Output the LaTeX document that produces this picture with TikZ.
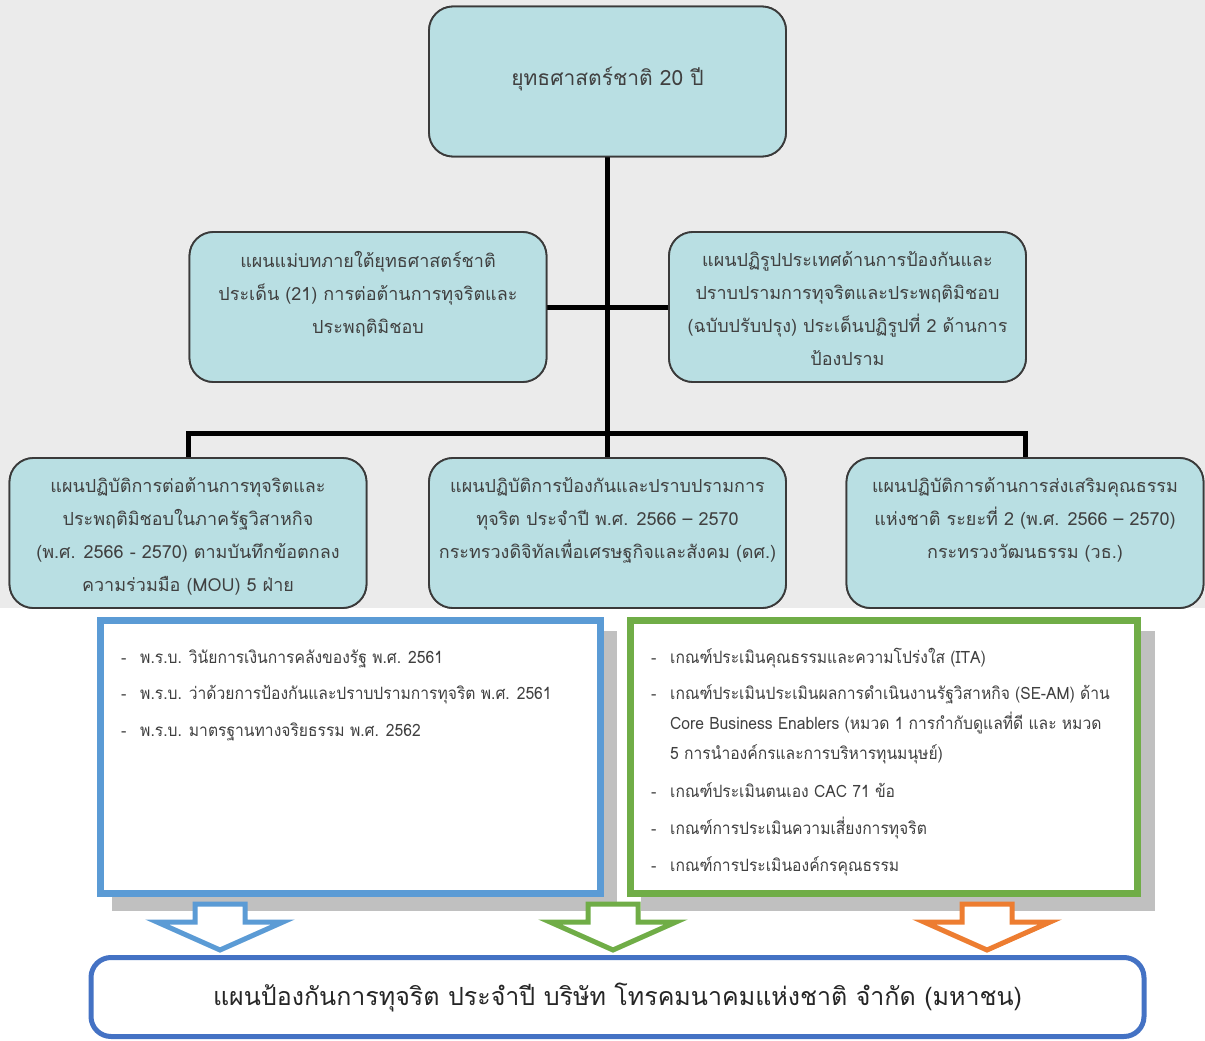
\documentclass[tikz,border=0pt]{standalone}
\usepackage{fontspec}
\setmainfont[Script=Thai]{Loma}
\newfontfamily\listfont[Script=Thai,FakeStretch=0.92]{Loma}
\definecolor{bgc}{HTML}{EBEBEB}
\definecolor{tealc}{HTML}{B9DFE3}
\definecolor{bordc}{HTML}{3A3A3A}
\definecolor{blueb}{HTML}{5B9BD5}
\definecolor{greenb}{HTML}{70AD47}
\definecolor{orangeb}{HTML}{ED7D31}
\definecolor{navyb}{HTML}{4472C4}
\definecolor{shadc}{HTML}{C0C0C0}
\definecolor{txtc}{HTML}{404040}
\begin{document}
\begin{tikzpicture}[x=1pt,y=-1pt,
  pbox/.style={rectangle,rounded corners=24pt,draw=bordc,line width=1.8pt,fill=tealc,minimum width=357pt,minimum height=150pt,inner sep=0pt},
  btext/.style={anchor=north,align=center,text=txtc,inner sep=0pt,font=\fontsize{18}{33}\selectfont},
  conn/.style={line width=5pt,black},
  litem/.style={anchor=base west,inner sep=0pt,text=txtc,font=\listfont\fontsize{17}{30}\selectfont},
  ldash/.style={anchor=base west,inner sep=0pt,text=txtc,font=\fontsize{16}{30}\selectfont},
  harrow/.style={line width=5pt,fill=white,line join=miter}
]
\useasboundingbox (0,0) rectangle (1205,1041);
\fill[white] (0,0) rectangle (1205,1041);
\fill[bgc] (0,0) rectangle (1205,608);

\coordinate (j2) at (607.5,433);

% boxes (first pass, to get anchors)
\node[pbox] (top) at (607.5,81.5) {};
\node[pbox] (ml) at (368,307) {};
\node[pbox] (mr) at (847.5,307) {};
\node[pbox] (bl) at (188,533) {};
\node[pbox] (bm) at (607.5,533) {};
\node[pbox] (br) at (1025,533) {};

% connectors
\draw[conn] (top.south) -- (j2);
\draw[conn] (ml.east) -- (mr.west);
\draw[conn] (bl.north) -- (bl.north |- j2) -- (br.north |- j2) -- (br.north);
\draw[conn] (j2) -- (bm.north);

% boxes over connectors
\node[pbox] (top2) at (top) {};
\node[pbox] (ml2) at (ml) {};
\node[pbox] (mr2) at (mr) {};
\node[pbox] (bl2) at (bl) {};
\node[pbox] (bm2) at (bm) {};
\node[pbox] (br2) at (br) {};

\node[btext,anchor=center,font=\fontsize{21}{30}\selectfont] (topt) at (607.5,79) {ยุทธศาสตร์ชาติ 20 ปี};
\node[btext] (mlt) at ([yshift=-20pt]ml.north) {แผนแม่บทภายใต้ยุทธศาสตร์ชาติ\\ประเด็น (21) การต่อต้านการทุจริตและ\\ประพฤติมิชอบ};
\node[btext] (mrt) at ([yshift=-20pt]mr.north) {แผนปฏิรูปประเทศด้านการป้องกันและ\\ปราบปรามการทุจริตและประพฤติมิชอบ\\(ฉบับปรับปรุง) ประเด็นปฏิรูปที่ 2 ด้านการ\\ป้องปราม};
\node[btext] (blt) at ([yshift=-20pt]bl.north) {แผนปฏิบัติการต่อต้านการทุจริตและ\\ประพฤติมิชอบในภาครัฐวิสาหกิจ\\(พ.ศ. 2566 - 2570) ตามบันทึกข้อตกลง\\ความร่วมมือ (MOU) 5 ฝ่าย};
\node[btext] (bmt) at ([yshift=-20pt]bm.north) {แผนปฏิบัติการป้องกันและปราบปรามการ\\ทุจริต ประจำปี พ.ศ. 2566 – 2570\\กระทรวงดิจิทัลเพื่อเศรษฐกิจและสังคม (ดศ.)};
\node[btext] (brt) at ([yshift=-20pt]br.north) {แผนปฏิบัติการด้านการส่งเสริมคุณธรรม\\แห่งชาติ ระยะที่ 2 (พ.ศ. 2566 – 2570)\\กระทรวงวัฒนธรรม (วธ.)};

% shadows
\fill[shadc] (112,631) rectangle (617,911);
\fill[shadc] (641,631) rectangle (1155,911);
% list boxes
\draw[blueb,line width=7pt,fill=white] (100.5,620.5) rectangle (600.5,893.5);
\draw[greenb,line width=7pt,fill=white] (630.5,620.5) rectangle (1137.5,893.5);

% blue list
\node[ldash] (bd1) at (121,663) {-};
\node[litem] (bi1) at (140,663) {พ.ร.บ. วินัยการเงินการคลังของรัฐ พ.ศ. 2561};
\node[ldash] (bd2) at (121,699.5) {-};
\node[litem] (bi2) at (140,699.5) {พ.ร.บ. ว่าด้วยการป้องกันและปราบปรามการทุจริต พ.ศ. 2561};
\node[ldash] (bd3) at (121,736) {-};
\node[litem] (bi3) at (140,736) {พ.ร.บ. มาตรฐานทางจริยธรรม พ.ศ. 2562};

% green list
\node[ldash] (gd1) at (651,663) {-};
\node[litem] (gi1) at (670,663) {เกณฑ์ประเมินคุณธรรมและความโปร่งใส (ITA)};
\node[ldash] (gd2) at (651,699.5) {-};
\node[litem] (gi2a) at (670,699.5) {เกณฑ์ประเมินประเมินผลการดำเนินงานรัฐวิสาหกิจ (SE-AM) ด้าน};
\node[litem] (gi2b) at (670,729.5) {Core Business Enablers (หมวด 1 การกำกับดูแลที่ดี และ หมวด};
\node[litem] (gi2c) at (670,759.5) {5 การนำองค์กรและการบริหารทุนมนุษย์)};
\node[ldash] (gd3) at (651,797) {-};
\node[litem] (gi3) at (670,797) {เกณฑ์ประเมินตนเอง CAC 71 ข้อ};
\node[ldash] (gd4) at (651,834.5) {-};
\node[litem] (gi4) at (670,834.5) {เกณฑ์การประเมินความเสี่ยงการทุจริต};
\node[ldash] (gd5) at (651,871) {-};
\node[litem] (gi5) at (670,871) {เกณฑ์การประเมินองค์กรคุณธรรม};

% hollow arrows
\foreach \cx/\col in {220/blueb,613/greenb,987/orangeb}{
  \draw[harrow,draw=\col] (\cx-25,904) -- (\cx+25,904) -- (\cx+25,922) -- (\cx+63,922) -- (\cx,950) -- (\cx-63,922) -- (\cx-25,922) -- cycle;
}

% bottom box
\node[rectangle,rounded corners=20pt,draw=navyb,line width=5pt,fill=white,minimum width=1053pt,minimum height=79pt,inner sep=0pt,text=black!85,font=\fontsize{25}{30}\selectfont] (final) at (617.5,997) {แผนป้องกันการทุจริต ประจำปี บริษัท โทรคมนาคมแห่งชาติ จำกัด (มหาชน)};
\end{tikzpicture}
\end{document}
